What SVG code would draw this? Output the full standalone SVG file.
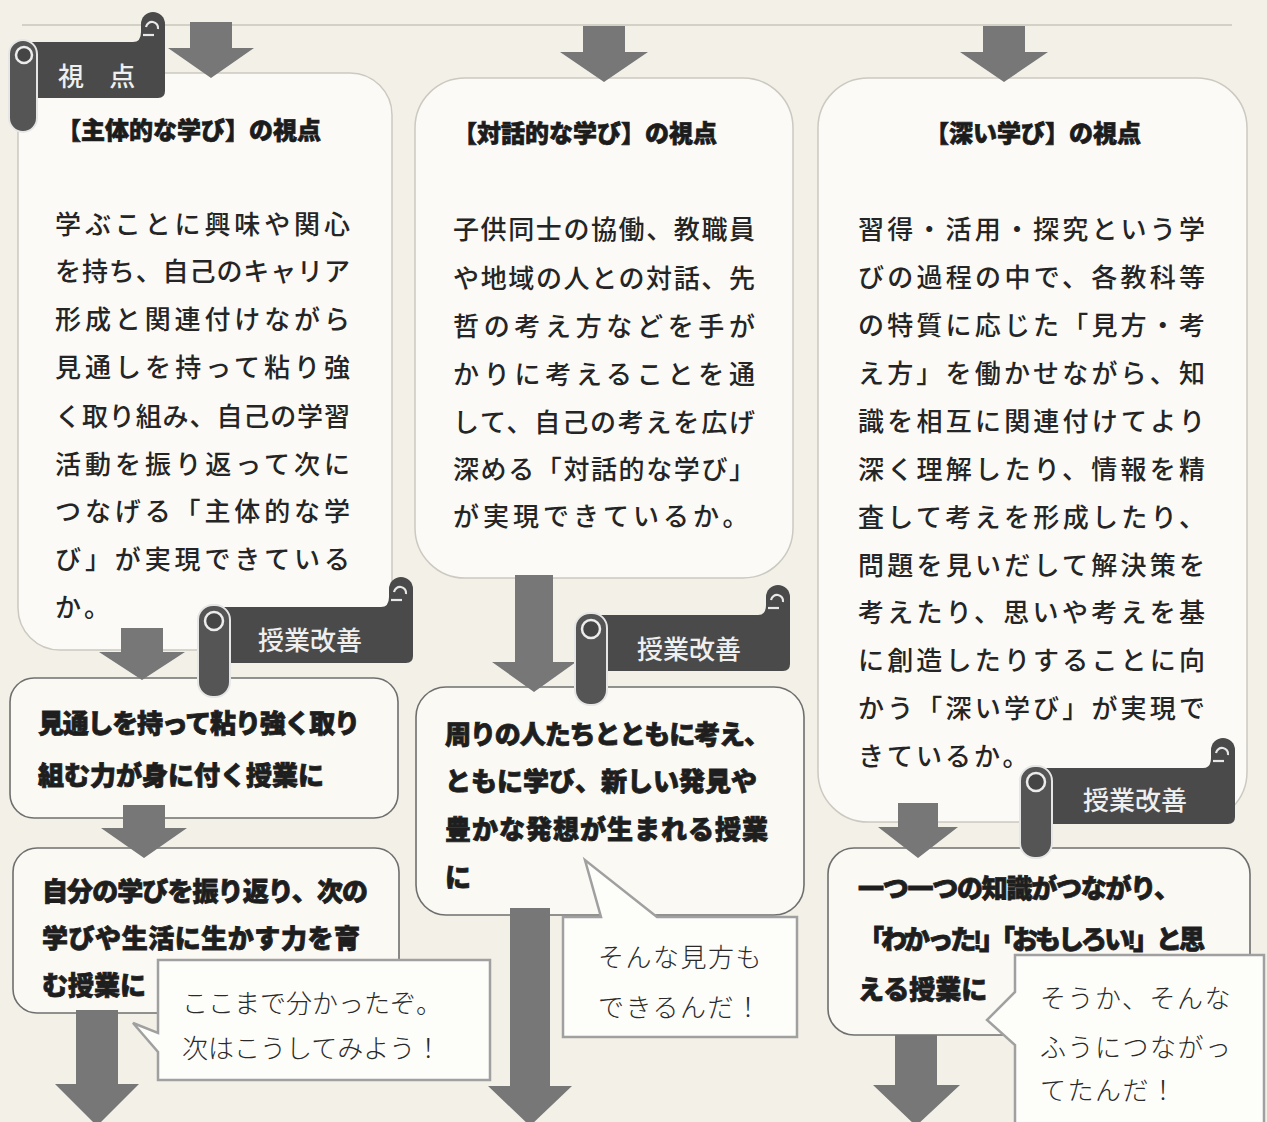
<svg xmlns="http://www.w3.org/2000/svg" width="1267" height="1122" viewBox="0 0 1267 1122">
<defs>
<style>
.bg{fill:#f3f1e7}
.vbox{fill:#fbfaf6;stroke:#cbc9c0;stroke-width:1.5}
.ibox{fill:#faf9f4;stroke:#6f6f6f;stroke-width:1.6}
.bub{fill:#fdfdfa;stroke:#a0a0a0;stroke-width:2.5}
.arr{fill:#777777}
.dark{fill:#4a4a4a}
.roll{fill:#555555;stroke:#e6e6e6;stroke-width:2}
.loop{fill:#454545;stroke:#ececec;stroke-width:2.5}
.wl{fill:none;stroke:#e8e8e8;stroke-width:2.2}
.t{font-family:"Liberation Sans","Noto Sans CJK JP",sans-serif}
.ttl{font-size:24px;font-weight:900;fill:#1c1c1c;stroke:#1c1c1c;stroke-width:0.7}
.body{font-size:26px;font-weight:500;fill:#252525}
.bold{font-size:26px;font-weight:900;fill:#1e1e1e;stroke:#1e1e1e;stroke-width:0.8}
.ban{font-size:26px;font-weight:500;fill:#efefef}
.say{font-size:26px;font-weight:300;fill:#2a2a2a}
</style>
<g id="scroll">
<path class="dark" d="M14 0 H179 Q187 0 187 -10 V-18 H211 V49 Q211 56 204 56 H14 Z"/>
<circle class="dark" cx="199" cy="-18" r="12"/>
<path class="wl" d="M192 -15 A6 6 0 1 1 204 -13"/>
<line class="wl" x1="189" y1="-7" x2="200" y2="-7"/>
<rect class="roll" x="-4" y="-2" width="32" height="92" rx="15"/>
<circle class="loop" cx="12" cy="14" r="9"/>
</g>
</defs>

<rect class="bg" x="0" y="0" width="1267" height="1122"/>
<line x1="22" y1="25" x2="1232" y2="25" stroke="#c9c6bb" stroke-width="1.5"/>

<g id="view-shutai">
<rect class="vbox" x="18" y="73" width="374" height="577" rx="42"/>
<text class="t ttl" x="57" y="139">【主体的な学び】の視点</text>
<g class="t body">
<text x="55" y="234" textLength="295" lengthAdjust="spacing">学ぶことに興味や関心</text>
<text x="55" y="281" textLength="295" lengthAdjust="spacing">を持ち、自己のキャリア</text>
<text x="55" y="329" textLength="295" lengthAdjust="spacing">形成と関連付けながら</text>
<text x="55" y="377" textLength="295" lengthAdjust="spacing">見通しを持って粘り強</text>
<text x="55" y="426" textLength="295" lengthAdjust="spacing">く取り組み、自己の学習</text>
<text x="55" y="474" textLength="295" lengthAdjust="spacing">活動を振り返って次に</text>
<text x="55" y="521" textLength="295" lengthAdjust="spacing">つなげる「主体的な学</text>
<text x="55" y="569" textLength="295" lengthAdjust="spacing">び」が実現できている</text>
<text x="55" y="617" letter-spacing="3.5">か。</text>
</g>
</g>

<g id="view-taiwa">
<rect class="vbox" x="415" y="78" width="378" height="500" rx="50"/>
<text class="t ttl" x="453" y="142">【対話的な学び】の視点</text>
<g class="t body">
<text x="453" y="239" textLength="302" lengthAdjust="spacing">子供同士の協働、教職員</text>
<text x="453" y="288" textLength="302" lengthAdjust="spacing">や地域の人との対話、先</text>
<text x="453" y="336" textLength="302" lengthAdjust="spacing">哲の考え方などを手が</text>
<text x="453" y="384" textLength="302" lengthAdjust="spacing">かりに考えることを通</text>
<text x="453" y="432" textLength="302" lengthAdjust="spacing">して、自己の考えを広げ</text>
<text x="453" y="479" textLength="302" lengthAdjust="spacing">深める「対話的な学び」</text>
<text x="453" y="526" letter-spacing="4">が実現できているか。</text>
</g>
</g>

<g id="view-fukai">
<rect class="vbox" x="818" y="78" width="429" height="744" rx="50"/>
<text class="t ttl" x="925" y="142">【深い学び】の視点</text>
<g class="t body">
<text x="858" y="239" textLength="347" lengthAdjust="spacing">習得・活用・探究という学</text>
<text x="858" y="287" textLength="347" lengthAdjust="spacing">びの過程の中で、各教科等</text>
<text x="858" y="335" textLength="347" lengthAdjust="spacing">の特質に応じた「見方・考</text>
<text x="858" y="383" textLength="347" lengthAdjust="spacing">え方」を働かせながら、知</text>
<text x="858" y="431" textLength="347" lengthAdjust="spacing">識を相互に関連付けてより</text>
<text x="858" y="479" textLength="347" lengthAdjust="spacing">深く理解したり、情報を精</text>
<text x="858" y="527" textLength="347" lengthAdjust="spacing">査して考えを形成したり、</text>
<text x="858" y="575" textLength="347" lengthAdjust="spacing">問題を見いだして解決策を</text>
<text x="858" y="622" textLength="347" lengthAdjust="spacing">考えたり、思いや考えを基</text>
<text x="858" y="670" textLength="347" lengthAdjust="spacing">に創造したりすることに向</text>
<text x="858" y="718" textLength="347" lengthAdjust="spacing">かう「深い学び」が実現で</text>
<text x="858" y="766" letter-spacing="3">きているか。</text>
</g>
</g>

<g id="banner-shiten">
<path class="dark" d="M31 42 H133 Q141 42 141 32 V24 H165 V91 Q165 98 158 98 H31 Z"/>
<circle class="dark" cx="153" cy="24" r="12"/>
<path class="wl" d="M146 27 A6 6 0 1 1 158 29"/>
<line class="wl" x1="143" y1="35" x2="154" y2="35"/>
<rect class="roll" x="9" y="40" width="28" height="92" rx="14"/>
<circle class="loop" cx="24" cy="55" r="8"/>
<text class="t ban" x="58" y="86" font-size="24" letter-spacing="9">視 点</text>
</g>

<g id="imp-1">
<rect class="ibox" x="10" y="678" width="388" height="140" rx="24"/>
<text class="t bold" x="38" y="733" textLength="322" lengthAdjust="spacing">見通しを持って粘り強く取り</text>
<text class="t bold" x="38" y="785">組む力が身に付く授業に</text>
</g>

<g id="imp-2">
<rect class="ibox" x="13" y="848" width="386" height="165" rx="24"/>
<text class="t bold" x="42" y="901" textLength="326" lengthAdjust="spacing">自分の学びを振り返り、次の</text>
<text class="t bold" x="42" y="948" textLength="318" lengthAdjust="spacing">学びや生活に生かす力を育</text>
<text class="t bold" x="42" y="995">む授業に</text>
</g>

<g id="imp-3">
<rect class="ibox" x="416" y="687" width="388" height="228" rx="30"/>
<text class="t bold" x="445" y="744" textLength="325" lengthAdjust="spacing">周りの人たちとともに考え、</text>
<text class="t bold" x="445" y="791" textLength="312" lengthAdjust="spacing">ともに学び、新しい発見や</text>
<text class="t bold" x="445" y="839" textLength="323" lengthAdjust="spacing">豊かな発想が生まれる授業</text>
<text class="t bold" x="445" y="887">に</text>
</g>

<g id="imp-4">
<rect class="ibox" x="828" y="848" width="422" height="187" rx="26"/>
<text class="t bold" x="858" y="898" textLength="322" lengthAdjust="spacing">一つ一つの知識がつながり、</text>
<text class="t bold" x="858" y="949" textLength="347" lengthAdjust="spacing">「わかった!」「おもしろい!」と思</text>
<text class="t bold" x="858" y="999">える授業に</text>
</g>

<g id="connectors">
<polygon class="arr" points="190,22 232,22 232,48 254,48 211,78 168,48 190,48"/>
<polygon class="arr" points="583,26 625,26 625,52 648,52 604,82 560,52 583,52"/>
<polygon class="arr" points="983,26 1025,26 1025,52 1048,52 1004,82 960,52 983,52"/>
<polygon class="arr" points="121,628 163,628 163,652 185,652 142,680 99,652 121,652"/>
<polygon class="arr" points="123,805 165,805 165,828 187,828 144,858 101,828 123,828"/>
<polygon class="arr" points="76,1010 118,1010 118,1084 139,1084 97,1126 55,1084 76,1084"/>
<polygon class="arr" points="515,575 553,575 553,662 576,662 534,692 492,662 515,662"/>
<polygon class="arr" points="510,908 550,908 550,1086 572,1086 530,1126 488,1086 510,1086"/>
<polygon class="arr" points="898,803 938,803 938,827 958,827 918,858 878,827 898,827"/>
<polygon class="arr" points="895,1035 937,1035 937,1085 960,1085 916,1126 873,1085 895,1085"/>
</g>

<g id="banner-kaizen-1">
<use href="#scroll" transform="translate(202,607)"/>
<text class="t ban" x="258" y="650">授業改善</text>
</g>
<g id="banner-kaizen-2">
<use href="#scroll" transform="translate(579,615)"/>
<text class="t ban" x="637" y="659">授業改善</text>
</g>
<g id="banner-kaizen-3">
<use href="#scroll" transform="translate(1024,768)"/>
<text class="t ban" x="1083" y="810">授業改善</text>
</g>

<g id="bubble-1">
<path class="bub" d="M158 960 H490 V1080 H158 V1052 L133 1023 L158 1033 Z"/>
<text class="t say" x="182" y="1013">ここまで分かったぞ。</text>
<text class="t say" x="182" y="1058">次はこうしてみよう！</text>
</g>
<g id="bubble-2">
<path class="bub" d="M563 917 H601 L585 860 L657 917 H797 V1037 H563 Z"/>
<text class="t say" x="598" y="967" letter-spacing="1.5">そんな見方も</text>
<text class="t say" x="598" y="1017" letter-spacing="1.5">できるんだ！</text>
</g>
<g id="bubble-3">
<path class="bub" d="M1015 955 H1264 V1126 H1015 V1045 L987 1020 L1015 992 Z"/>
<text class="t say" x="1040" y="1008" letter-spacing="1.5">そうか、そんな</text>
<text class="t say" x="1040" y="1057" letter-spacing="1.5">ふうにつながっ</text>
<text class="t say" x="1040" y="1100" letter-spacing="1.5">てたんだ！</text>
</g>
</svg>
